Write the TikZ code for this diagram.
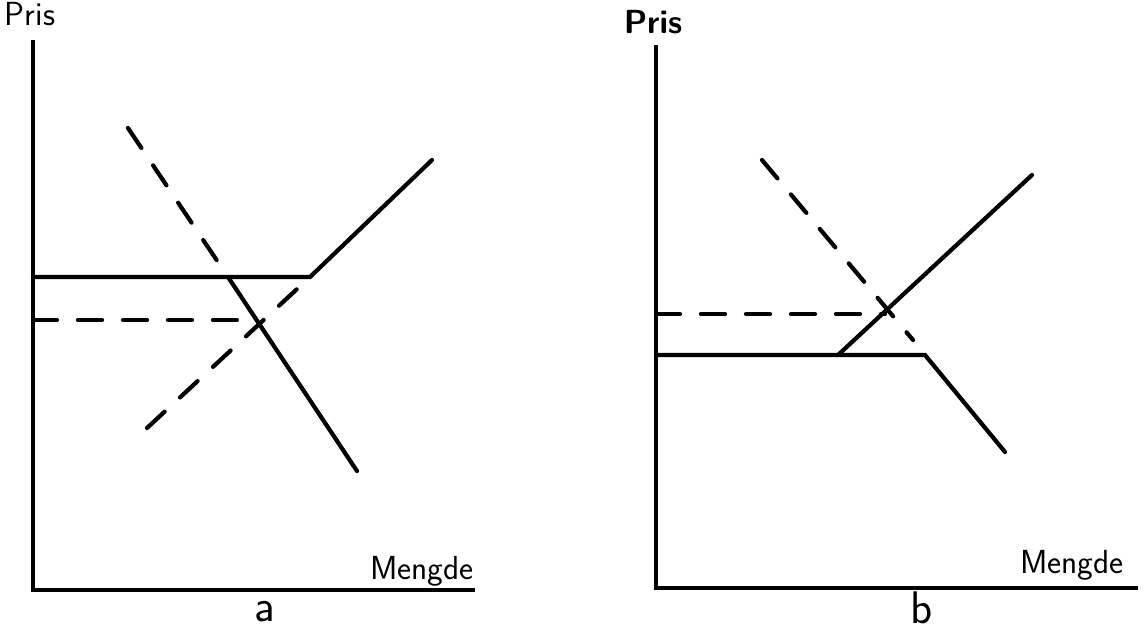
\documentclass[tikz,border=0pt]{standalone}
\usepackage{tikz}
\usetikzlibrary{positioning}

\begin{document}
\begin{tikzpicture}[
            x=0.02cm, y=-0.02cm,
            axis/.style={
                draw=black,
                line width=2.2pt
            },
            curve/.style={
                draw=black,
                line width=2.4pt,
                line cap=round
            },
            dashcurve/.style={
                curve,
                line cap=round,
                dash pattern=on 0.48cm off 0.42cm
            },
            label/.style={
                font=\sffamily\fontsize{19}{22}\selectfont,
                inner sep=0pt
            },
            panel/.style={
                font=\sffamily\fontsize{26}{28}\selectfont,
                inner sep=0pt
            }
        ]
            \useasboundingbox (0,0) rectangle (1145,632);

            % --- PANEL A ---
            \coordinate (aO) at (33,590);
            \coordinate (aY) at (33,40);
            \coordinate (aX) at (475,590);
            \coordinate (aP) at (33,277);
            \coordinate (aK) at (310,277);
            \coordinate (aS) at (432,160);
            \coordinate (aC) at (228,277);
            \coordinate (aD) at (357,471);
            \coordinate (aT) at (128,128);
            \coordinate (aL) at (147,428);
            \coordinate (aQ) at (33,320);
            \coordinate (aE) at (257,320);

            \node [label] (prisa) at (30,14) {Pris};
            \node [label] (mengdea) at (422,571) {Mengde};
            \node [panel] (a) at (265,612) {a};

            \draw [axis] (aY) -- (aO) -- (aX);
            \draw [curve] (aP) -- (aK) -- (aS);
            \draw [curve] (aC) -- (aD);
            \draw [dashcurve] (aT) -- (aC);
            \draw [dashcurve] (aL) -- (aK);
            \draw [dashcurve] (aQ) -- (aE);

            % --- PANEL B ---
            \coordinate (bO) at (656,588);
            \coordinate (bY) at (656,45);
            \coordinate (bX) at (1138,588);
            \coordinate (bP) at (656,355);
            \coordinate (bK) at (925,355);
            \coordinate (bD) at (1005,452);
            \coordinate (bC) at (838,355);
            \coordinate (bS) at (1032,175);
            \coordinate (bT) at (762,160);
            \coordinate (bU) at (913,340);
            \coordinate (bQ) at (656,314);
            \coordinate (bE) at (885,314);

            \node [label, font=\sffamily\bfseries\fontsize{19}{22}\selectfont] (prisb) at (653,22) {Pris};
            \node [label] (mengdeb) at (1072,565) {Mengde};
            \node [panel] (b) at (922,608) {b};

            \draw [axis] (bY) -- (bO) -- (bX);
            \draw [curve] (bP) -- (bK) -- (bD);
            \draw [curve] (bC) -- (bS);
            \draw [dashcurve] (bT) -- (bU);
            \draw [dashcurve] (bQ) -- (bE);
        \end{tikzpicture}
\end{document}
